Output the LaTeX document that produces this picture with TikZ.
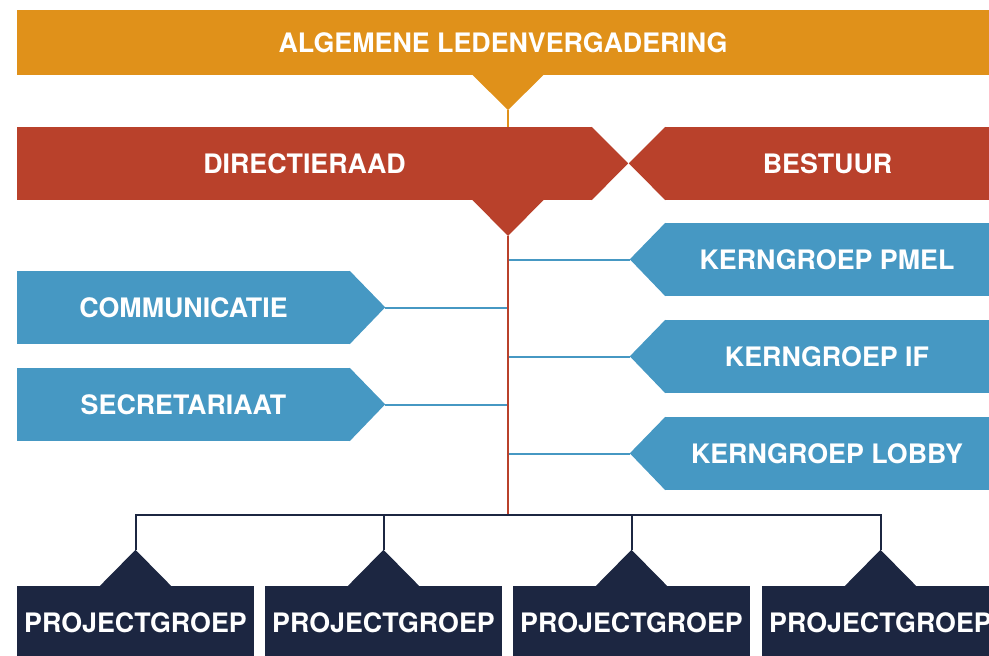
\documentclass[tikz,border=0pt]{standalone}
\usepackage{fontspec}
\setmainfont{TeX Gyre Heros}
\definecolor{alvorange}{RGB}{224,145,26}
\definecolor{dirred}{RGB}{185,65,43}
\definecolor{kernblue}{RGB}{70,152,195}
\definecolor{projnavy}{RGB}{28,38,65}
\begin{document}
\begin{tikzpicture}[x=1pt,y=-1pt,
  bartext/.style={text=white, font=\bfseries\fontsize{26.8}{30}\selectfont, inner sep=0pt, minimum height=73pt},
  bluelink/.style={draw=kernblue, line width=2pt},
  navylink/.style={draw=projnavy, line width=2pt}]
\useasboundingbox (0,0) rectangle (989,656);
% algemene ledenvergadering
\node[bartext, fill=alvorange, minimum width=972pt, minimum height=65pt] (alv) at (503,42.5) {ALGEMENE LEDENVERGADERING};
\fill[alvorange] (472,74.5) -- (508,110) -- (544,74.5) -- cycle;
\coordinate (alvtip) at (508,110);
% directieraad en bestuur
\node[bartext, fill=dirred, minimum width=575pt] (dir) at (304.5,163.5) {DIRECTIERAAD};
\fill[dirred] ([xshift=-0.5pt]dir.north east) -- ++(36.5,36.5) -- ([xshift=-0.5pt]dir.south east) -- cycle;
\fill[dirred] (472,199.5) -- (508,236) -- (544,199.5) -- cycle;
\coordinate (dirtip) at (508,236);
\node[bartext, fill=dirred, minimum width=325pt] (bes) at (827.5,163.5) {BESTUUR};
\fill[dirred] ([xshift=0.5pt]bes.north west) -- ++(-36.5,36.5) -- ([xshift=0.5pt]bes.south west) -- cycle;
% kerngroepen rechts
\foreach \name/\txt/\y in {kpmel/KERNGROEP PMEL/259.5, kif/KERNGROEP IF/356.5, klob/KERNGROEP LOBBY/453.5} {
  \node[bartext, fill=kernblue, minimum width=324pt] (\name) at (827,\y) {\txt};
  \fill[kernblue] ([xshift=0.5pt]\name.north west) -- ++(-35.5,36.5) -- ([xshift=0.5pt]\name.south west) -- cycle;
  \coordinate (\name-tip) at ([xshift=-35pt]\name.west);
}
% communicatie en secretariaat links
\foreach \name/\txt/\y in {comm/COMMUNICATIE/307.5, secr/SECRETARIAAT/404.5} {
  \node[bartext, fill=kernblue, minimum width=333pt] (\name) at (183.5,\y) {\txt};
  \fill[kernblue] ([xshift=-0.5pt]\name.north east) -- ++(35.5,36.5) -- ([xshift=-0.5pt]\name.south east) -- cycle;
  \coordinate (\name-tip) at ([xshift=35pt]\name.east);
}
% projectgroepen
\foreach \i/\x in {1/135.5, 2/383.5, 3/631.5, 4/880.5} {
  \node[bartext, fill=projnavy, minimum width=237pt, minimum height=74pt] (p\i) at (\x,623) {PROJECTGROEP};
  \fill[projnavy] ([xshift=-36pt,yshift=-0.5pt]p\i.north) -- ++(36,-36.5) -- ([xshift=36pt,yshift=-0.5pt]p\i.north) -- cycle;
  \coordinate (pt\i) at ([yshift=36pt]p\i.north);
}
\coordinate (bus) at (508,515);
% verbindingen
\draw[alvorange, line width=2pt] (alvtip) -- (alvtip |- dir.north);
\foreach \name in {kpmel, kif, klob, comm, secr}
  \draw[bluelink] (\name-tip) -- (\name-tip -| dirtip);
\draw[dirred, line width=2.5pt] (dirtip) -- (dirtip |- bus);
\draw[navylink] (pt1) -- (pt1 |- bus) -- (pt4 |- bus) -- (pt4);
\foreach \i in {2,3}
  \draw[navylink] (pt\i) -- (pt\i |- bus);
\end{tikzpicture}
\end{document}
